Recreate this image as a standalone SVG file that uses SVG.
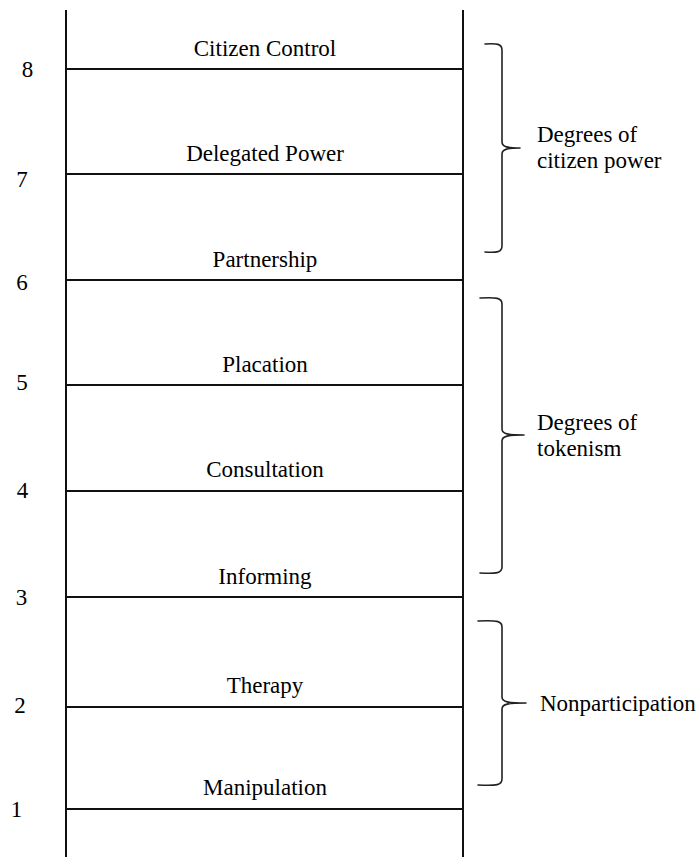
<svg xmlns="http://www.w3.org/2000/svg" width="699" height="857" viewBox="0 0 699 857">
  <style>
    .rail { stroke: #111; stroke-width: 2; fill: none; }
    .rung { stroke: #111; stroke-width: 2; fill: none; }
    .brace { stroke: #222; stroke-width: 1.6; fill: none; stroke-linecap: round; stroke-linejoin: round; }
  </style>
  <rect width="699" height="857" fill="#fff"/>

  <!-- ladder rails -->
  <g id="rails">
    <line class="rail" x1="66" y1="10" x2="66" y2="857"/>
    <line class="rail" x1="463" y1="10" x2="463" y2="857"/>
  </g>

  <!-- rungs with their names and level numbers -->
  <g id="rung-8">
    <line class="rung" x1="66" y1="69" x2="463" y2="69"/>
    <text font-family="Liberation Serif" font-size="23" text-anchor="middle" x="265" y="56">Citizen Control</text>
    <text font-family="Liberation Serif" font-size="23" text-anchor="middle" x="27.5" y="77">8</text>
  </g>
  <g id="rung-7">
    <line class="rung" x1="66" y1="174" x2="463" y2="174"/>
    <text font-family="Liberation Serif" font-size="23" text-anchor="middle" x="265" y="161">Delegated Power</text>
    <text font-family="Liberation Serif" font-size="23" text-anchor="middle" x="22" y="187">7</text>
  </g>
  <g id="rung-6">
    <line class="rung" x1="66" y1="280" x2="463" y2="280"/>
    <text font-family="Liberation Serif" font-size="23" text-anchor="middle" x="265" y="267">Partnership</text>
    <text font-family="Liberation Serif" font-size="23" text-anchor="middle" x="22" y="290">6</text>
  </g>
  <g id="rung-5">
    <line class="rung" x1="66" y1="385" x2="463" y2="385"/>
    <text font-family="Liberation Serif" font-size="23" text-anchor="middle" x="265" y="372">Placation</text>
    <text font-family="Liberation Serif" font-size="23" text-anchor="middle" x="22" y="390">5</text>
  </g>
  <g id="rung-4">
    <line class="rung" x1="66" y1="491" x2="463" y2="491"/>
    <text font-family="Liberation Serif" font-size="23" text-anchor="middle" x="265" y="477">Consultation</text>
    <text font-family="Liberation Serif" font-size="23" text-anchor="middle" x="22.5" y="498">4</text>
  </g>
  <g id="rung-3">
    <line class="rung" x1="66" y1="597" x2="463" y2="597"/>
    <text font-family="Liberation Serif" font-size="23" text-anchor="middle" x="265" y="584">Informing</text>
    <text font-family="Liberation Serif" font-size="23" text-anchor="middle" x="21.5" y="605">3</text>
  </g>
  <g id="rung-2">
    <line class="rung" x1="66" y1="707" x2="463" y2="707"/>
    <text font-family="Liberation Serif" font-size="23" text-anchor="middle" x="265" y="693">Therapy</text>
    <text font-family="Liberation Serif" font-size="23" text-anchor="middle" x="20" y="713">2</text>
  </g>
  <g id="rung-1">
    <line class="rung" x1="66" y1="809" x2="463" y2="809"/>
    <text font-family="Liberation Serif" font-size="23" text-anchor="middle" x="265" y="795">Manipulation</text>
    <text font-family="Liberation Serif" font-size="23" text-anchor="middle" x="16.5" y="817">1</text>
  </g>

  <!-- grouping braces -->
  <g id="group-citizen-power">
    <path class="brace" d="M485,44 C497,43 502,44 502,50 L502,142 C502,147 508,148 520,148 C508,148 502,149 502,154 L502,246 C502,252 497,253 485,252"/>
    <text font-family="Liberation Serif" font-size="23" x="537" y="142">Degrees of</text>
    <text font-family="Liberation Serif" font-size="23" x="537" y="168">citizen power</text>
  </g>
  <g id="group-tokenism">
    <path class="brace" d="M480,298 C497,297 502,298 502,304 L502,429 C502,434 508,435 524,435 C508,435 502,436 502,441 L502,567 C502,573 497,574 480,573"/>
    <text font-family="Liberation Serif" font-size="23" x="537" y="430">Degrees of</text>
    <text font-family="Liberation Serif" font-size="23" x="537" y="456">tokenism</text>
  </g>
  <g id="group-nonparticipation">
    <path class="brace" d="M478,621 C497,620 502,621 502,627 L502,697 C502,702 508,703 526,703 C508,703 502,704 502,709 L502,779 C502,785 497,786 478,785"/>
    <text font-family="Liberation Serif" font-size="23" x="540" y="711">Nonparticipation</text>
  </g>
</svg>
